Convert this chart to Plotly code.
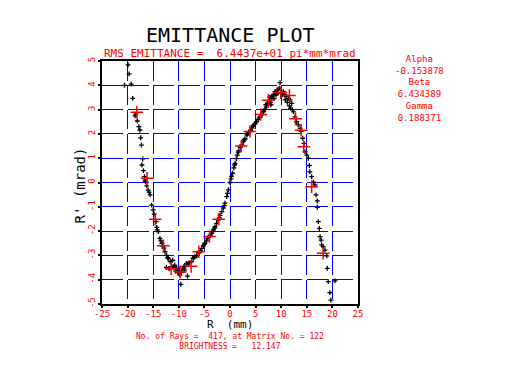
import plotly.graph_objects as go

# Ray coordinates (R in mm, R' in mrad)
ray_r = [-19.9, -19.7, -20.6, -19.3, -19.0, -18.4, -18.55, -18.1, -17.8, -17.6,
         -17.45, -17.3, -17.05, -17.2, -16.9, -16.7, -16.5, -16.25, -16.6, -16.0,
         -15.8, -15.6, -15.3, -15.0, -14.8, -14.45, -14.2, -14.0, -14.3, -13.7,
         -13.5, -13.3, -12.9, -12.7, -12.4, -12.05, -11.7, -11.4, -12.4, -11.9,
         -11.0, -10.4, -10.0, -9.8, -9.8, -10.2, -9.6, -9.3, -9.0, -8.3,
         -8.8, -8.5, -8.0, -7.5, -7.2, -6.85, -6.5, -6.2, -5.8, -5.5,
         -5.2, -4.9, -4.6, -4.4, -3.9, -3.58, -3.25, -2.93, -2.6, -2.3,
         -1.95, -1.6, -1.3, -1.0, -0.65, -0.3, 0.0, 0.3, 0.5, 0.75,
         1.0, 1.25, 1.43, 1.7, 2.0, 2.3, 2.6, 2.93, 3.3, 3.6,
         4.0, 4.3, 4.55, 4.9, 5.2, 5.5, 5.9, 6.2, 6.5, 6.84,
         7.1, 7.3, 7.6, 7.9, 8.14, 8.46, 8.2, 8.8, 9.24, 9.6,
         9.77, 10.1, 10.4, 10.7, 11.0, 11.4, 11.7, 12.05, 11.85, 12.4,
         12.7, 13.0, 13.35, 13.7, 13.9, 14.2, 14.45, 14.65, 15.0, 15.3,
         15.5, 15.6, 15.95, 16.3, 16.6, 16.8, 17.05, 17.05, 17.25, 17.45,
         17.6, 17.8, 17.9, 18.2, 18.55, 18.9, 19.0, 19.2, 20.5, 19.5,
         19.7, -11.2, -10.8, -9.5, -8.9, -10.6, 7.0, 7.8, 8.6, 9.0,
         9.4, 8.0, 10.8, 11.2, 12.2, 11.6, -4.1, -3.4, -2.1, -1.1,
         -0.5, 0.2, 0.9, 1.6, 2.8, 3.4, 4.7, 5.7, 6.6, -6.0,
         -7.0, -5.0, -8.2, -3.0, -12.2, -13.1, -10.9, -9.9, 8.9, 10.3]
ray_rp = [4.84, 4.47, 4.0, 4.05, 3.46, 2.81, 2.74, 2.53, 2.30, 2.16,
          1.84, 1.54, 0.97, 0.72, 0.49, 0.24, 0.03, -0.14, 0.10, -0.31,
          -0.40, -0.51, -0.93, -1.13, -1.30, -1.61, -1.95, -2.02, -1.85, -2.30,
          -2.40, -2.50, -2.70, -2.85, -3.00, -3.12, -3.26, -3.46, -3.49, -3.55,
          -3.50, -3.53, -3.62, -3.60, -3.81, -3.70, -4.19, -3.55, -3.45, -3.85,
          -3.46, -3.33, -3.30, -3.26, -3.12, -3.05, -3.02, -2.90, -2.80, -2.71,
          -2.60, -2.50, -2.40, -2.30, -2.17, -2.09, -1.95, -1.82, -1.68, -1.55,
          -1.35, -1.20, -1.05, -0.85, -0.58, -0.30, 0.0, 0.25, 0.38, 0.60,
          0.79, 0.98, 1.13, 1.30, 1.45, 1.55, 1.68, 1.80, 1.95, 2.05,
          2.15, 2.25, 2.33, 2.42, 2.50, 2.60, 2.70, 2.78, 2.91, 3.01,
          3.10, 3.25, 3.35, 3.30, 3.46, 3.60, 3.55, 3.74, 3.81, 3.88,
          4.11, 3.67, 3.75, 3.60, 3.55, 3.46, 3.40, 3.26, 3.05, 2.91,
          2.70, 2.50, 2.37, 2.23, 2.10, 1.82, 1.61, 1.27, 1.13, 1.00,
          0.70, 0.44, 0.24, 0.01, -0.10, -0.51, -0.76, -1.02, -1.61, -1.89,
          -2.23, -2.37, -2.57, -2.64, -2.78, -3.02, -3.53, -4.08, -4.05, -4.53,
          -4.84, -3.20, -3.40, -3.70, -3.60, -3.65, 3.20, 3.50, 3.45, 3.60,
          3.70, 3.20, 3.40, 3.30, 3.00, 3.15, -2.25, -2.02, -1.45, -0.95,
          -0.45, 0.15, 0.72, 1.25, 1.75, 2.00, 2.38, 2.66, 2.95, -2.88,
          -3.08, -2.55, -3.35, -1.88, -3.10, -2.62, -3.45, -3.56, 3.68, 3.62]

# Red cross markers
mark_r = [-18.2, -16.2, -14.6, -13.0, -11.5, -9.7, -7.6, -6.1, -4.0, -2.2,
          2.2, 3.9, 6.0, 7.5, 9.9, 11.6, 12.8, 13.9, 14.4, 15.95, 18.2]
mark_rp = [2.89, 0.17, -1.51, -2.60, -3.55, -3.68, -3.45, -2.85, -2.22, -1.51,
           1.50, 2.10, 2.80, 3.38, 3.70, 3.58, 2.62, 2.15, 1.47, -0.17, -2.91]

x_ticks = [-25, -20, -15, -10, -5, 0, 5, 10, 15, 20, 25]
y_ticks = [-5, -4, -3, -2, -1, 0, 1, 2, 3, 4, 5]

title_text = "EMITTANCE PLOT"
subtitle_text = "RMS EMITTANCE =  6.4437e+01 pi*mm*mrad"
twiss_lines = ["Alpha", "-0.153878", "Beta", "6.434389", "Gamma", "0.188371"]
footer_lines = ["No. of Rays =  417, at Matrix No. = 122", "BRIGHTNESS =   12.147"]

FONT = "DejaVu Sans Mono"
RED = "#FF0000"

fig = go.Figure()
fig.add_trace(go.Scatter(
    x=ray_r, y=ray_rp, mode="markers",
    marker=dict(symbol="cross-thin", size=3.5, color="black",
                line=dict(color="black", width=1.3)),
    hoverinfo="skip", showlegend=False))
fig.add_trace(go.Scatter(
    x=mark_r, y=mark_rp, mode="markers",
    marker=dict(symbol="cross-thin", size=9, color=RED,
                line=dict(color=RED, width=1.5)),
    hoverinfo="skip", showlegend=False))

axis_common = dict(
    showline=True, linecolor="black", linewidth=1.5, mirror=True,
    ticks="outside", ticklen=2, tickcolor="black", tickwidth=1.5,
    showgrid=True, gridcolor="#0000FF", gridwidth=1,
    zeroline=False, tickfont=dict(family=FONT, size=9, color=RED),
)

fig.update_xaxes(range=[-25, 25], tickvals=x_ticks, ticktext=[str(v) for v in x_ticks],
                 griddash="19.7px,4.6px", ticklabelstandoff=-2, **axis_common)
fig.update_yaxes(range=[-5, 5], tickvals=y_ticks, ticktext=[str(v) for v in y_ticks],
                 tickangle=-90, griddash="21px,4.6px", **axis_common)

ann = []
ann.append(dict(text=title_text, x=0.5, y=1.107, font=dict(family=FONT, size=20, color="black")))
ann.append(dict(text=subtitle_text, x=0.5, y=1.031, font=dict(family=FONT, size=11, color=RED)))
ann.append(dict(text="<br>".join(twiss_lines), x=1.242, y=0.886,
                font=dict(family=FONT, size=9, color=RED)))
ann.append(dict(text="R  (mm)", x=0.5, y=-0.083,
                font=dict(family=FONT, size=11, color="black")))
ann.append(dict(text="R' (mrad)", x=-0.088, y=0.49, textangle=-90,
                font=dict(family=FONT, size=14, color="black")))
ann.append(dict(text="<br>".join(footer_lines), x=0.5, y=-0.156,
                font=dict(family=FONT, size=8, color=RED)))
for a in ann:
    a.update(xref="paper", yref="paper", showarrow=False, xanchor="center", yanchor="middle")

fig.update_layout(
    width=511, height=365,
    margin=dict(l=102, r=153, t=61, b=61),
    paper_bgcolor="white", plot_bgcolor="white",
    annotations=ann, showlegend=False,
)

fig.write_html("out.html", config={"displayModeBar": False},
               post_script="document.body.style.margin='0px';")
